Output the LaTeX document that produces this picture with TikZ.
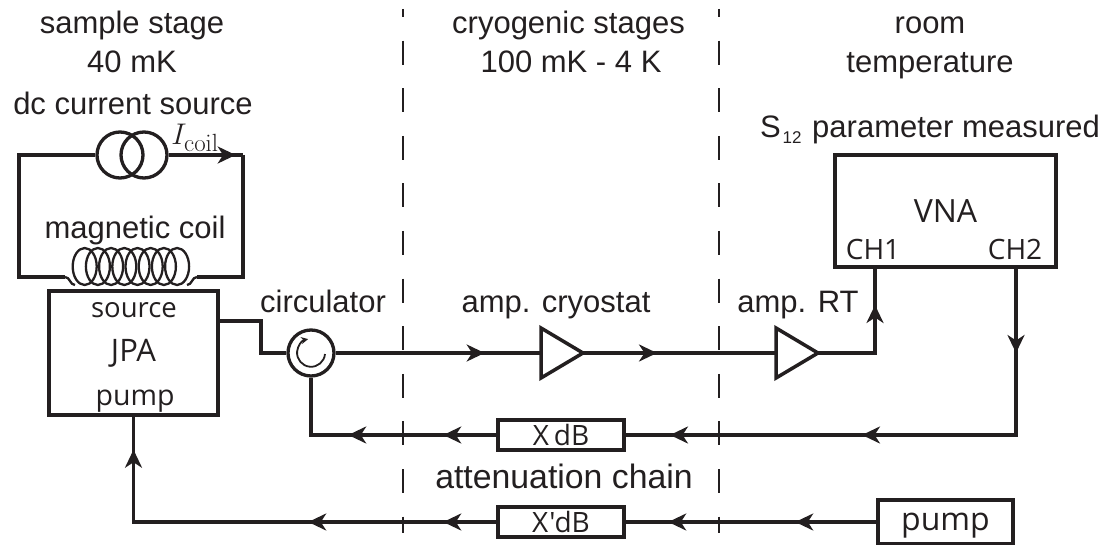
\documentclass[tikz,border=0pt]{standalone}
\usepackage[no-math]{fontspec}
\setmainfont{Liberation Sans}
\newfontfamily\boxfont{Open Sans}
\usepackage{tikz}
\usetikzlibrary{positioning, calc, arrows.meta, shapes.geometric, decorations.markings}
\definecolor{inkcol}{HTML}{231F20}
\tikzset{
  lab/.style={anchor=base, inner sep=0pt, text=inkcol, font=\fontsize{31}{36}\selectfont},
  boxlab/.style={anchor=base, inner sep=0pt, text=inkcol, font=\boxfont\fontsize{#1}{#1}\selectfont},
  wire/.style={draw=inkcol, line width=3.5pt},
  thinwire/.style={draw=inkcol, line width=2.3pt},
  stageline/.style={draw=inkcol, line width=1.6pt, dash pattern=on 24pt off 23.6pt, dash phase=16pt},
  devicebox/.style={draw=inkcol, line width=3.5pt, inner sep=0pt, text=inkcol, font=\boxfont\fontsize{#1}{#1}\selectfont},
  ringnode/.style={draw=inkcol, line width=3.3pt, circle, inner sep=0pt, minimum size=46pt},
  ampnode/.style={draw=inkcol, line width=3.5pt, isosceles triangle, isosceles triangle stretches, inner sep=0pt,
    outer sep=0pt, minimum width=50pt, minimum height=42pt, anchor=apex},
  tipat/.style={postaction={decorate, decoration={markings,
    mark=at position #1 with {\arrow{Stealth[length=18pt, width=17pt, inset=5.5pt]}}}}}
}

\begin{document}
\begin{tikzpicture}[x=1pt, y=-1pt]
    \useasboundingbox (0,0) rectangle (1107,545);

    % stage borders
    \coordinate (stageAtop) at (403,9);
    \coordinate (stageAbot) at (403,533);
    \coordinate (stageBtop) at (719,9);
    \coordinate (stageBbot) at (719,533);
    \draw[stageline] (stageAtop) -- (stageAbot);
    \draw[stageline] (stageBtop) -- (stageBbot);

    % headers
    \node[lab] (hA) at (132,34) {sample stage};
    \node[lab] (hAt) at (132,73) {40 mK};
    \node[lab] (hB) at (568.5,34) {cryogenic stages};
    \node[lab] (hBt) at (571,73) {100 mK - 4 K};
    \node[lab] (hC) at (930,34) {room};
    \node[lab] (hCt) at (930,73) {temperature};

    % dc source and coil loop
    \node[lab] (dclab) at (133,115) {dc current source};
    \node[ringnode] (srcL) at (120,155) {};
    \node[ringnode] (srcR) at (144,155) {};
    \node[anchor=base, inner sep=0pt, text=inkcol, font=\fontsize{24.88}{28}\selectfont] (icoil) at (195,145) {\scalebox{1.2}{$I_{\mathrm{coil}}$}};
    \coordinate (loopTL) at (19,155);
    \coordinate (loopTR) at (243,155);
    \coordinate (loopBL) at (19,277);
    \coordinate (loopBR) at (243,277);
    \coordinate (coilinL) at (65,277);
    \coordinate (coilinR) at (197,277);
    \coordinate (coilbotL) at (75,285);
    \coordinate (coilbotR) at (187,285);
    \draw[wire] (srcL.west) -- (loopTL) -- (loopBL) -- (coilinL);
    \draw[wire, tipat=67pt] (srcR.east) -- (loopTR);
    \draw[wire] (loopTR) -- (loopBR) -- (coilinR);
    \draw[thinwire] (coilinL) to[out=0, in=180] (coilbotL);
    \draw[thinwire] (coilinR) to[out=180, in=0] (coilbotR);
    \node[lab] (coillab) at (135,239) {magnetic coil};
    \foreach \k in {0,...,7}
      \draw[thinwire] (84.7+13.2*\k,266.5) ellipse[x radius=12pt, y radius=18.5pt];

    % JPA
    \node[devicebox=31, minimum width=169pt, minimum height=124pt] (jpa) at (133.5,353) {JPA};
    \node[boxlab=27.5] (jpasrc) at (134,317) {source};
    \node[boxlab=28.5] (jpapump) at (135,405) {pump};
    \coordinate (jpaout) at (218,321);
    \coordinate (jpabend) at (261,321);

    % circulator
    \node[ringnode] (circ) at (311,353) {};
    \node[lab] (circlab) at (323,312) {circulator};
    \draw[thinwire, line width=1.8pt, -{Stealth[length=7pt, width=7pt]}] ($(circ)+(14,1)$)
      arc[start angle=-5, end angle=-258, radius=14pt];
    \draw[wire] (jpaout) -- (jpabend) |- (circ.west);

    % amplifiers
    \node[ampnode] (ampC) at (583,353) {};
    \node[lab] (ampClab) at (556,312) {amp. cryostat};
    \node[ampnode] (ampR) at (818,353) {};
    \node[lab] (ampRlab) at (798,312) {amp. RT};

    % VNA
    \node[devicebox=32, minimum width=221pt, minimum height=112pt] (vna) at (945.5,211) {VNA};
    \node[boxlab=28] (ch1) at (873,259) {CH1};
    \node[boxlab=28] (ch2) at (1015,259) {CH2};
    \node[lab] (s12) at (930,138) {S\kern2pt\raisebox{-6pt}{\fontsize{17}{17}\selectfont 12}\kern2pt{} parameter measured};
    \coordinate (vnain) at (875,267);
    \coordinate (vnaout) at (1016,267);

    % attenuators and pump
    \node[devicebox=28, minimum width=126pt, minimum height=30pt] (xdb) at (561,435) {X\kern5pt dB};
    \node[devicebox=28, minimum width=126pt, minimum height=30pt] (xpdb) at (561,522) {X\kern1pt'\kern-1pt dB};
    \node[lab, font=\fontsize{33.8}{38}\selectfont] (attlab) at (564,488) {attenuation chain};
    \node[devicebox=32, minimum width=135pt, minimum height=44pt, text height=24pt, text depth=8pt] (pumpbox) at (945.5,522) {pump};

    % signal path
    \draw[wire, tipat=149pt] (circ.east) -- (ampC.west);
    \draw[wire, tipat=74pt] (ampC.apex) -- (ampR.west);
    \draw[wire, tipat=105pt] (ampR.apex) -| (vnain);
    \draw[wire, tipat=86pt, tipat=322pt, tipat=514pt] (vnaout) |- (xdb.east);
    \draw[wire, tipat=53pt, tipat=148pt] (xdb.west) -| (circ.south);
    \draw[wire, tipat=81pt, tipat=208pt] (pumpbox.west) -- (xpdb.east);
    \draw[wire, tipat=53pt, tipat=188pt, tipat=435pt] (xpdb.west) -| (jpa.south);
  \end{tikzpicture}
\end{document}
